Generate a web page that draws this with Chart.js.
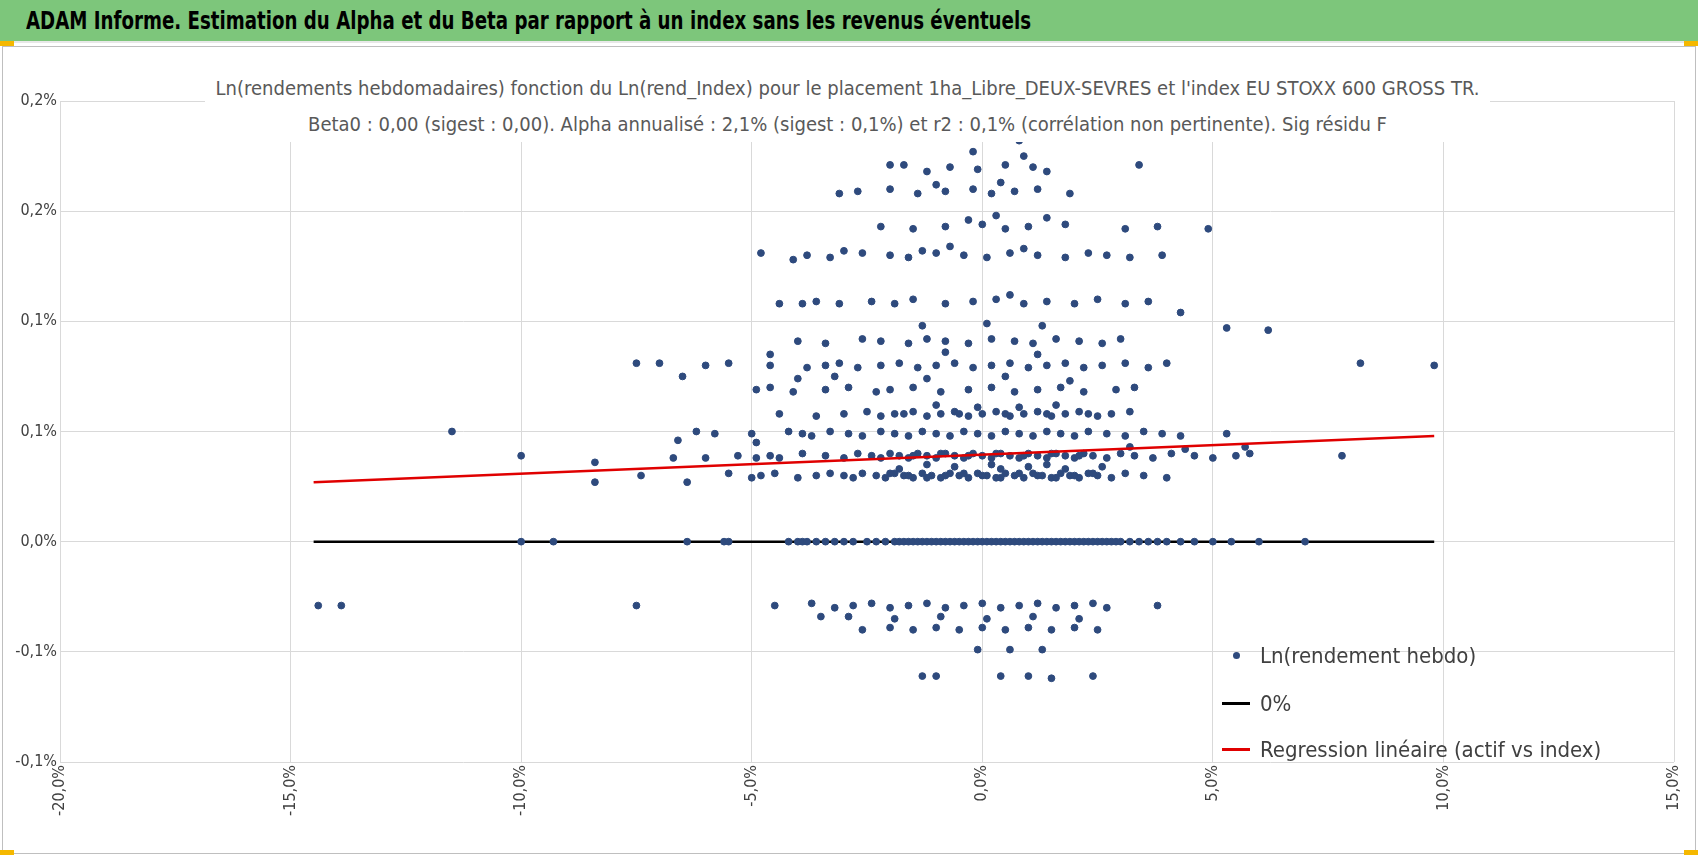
<!DOCTYPE html>
<html><head><meta charset="utf-8">
<script src="https://cdn.jsdelivr.net/npm/chart.js@4"></script>
<style>
body{margin:0;width:1698px;height:855px;overflow:hidden;background:#fff;font-family:"DejaVu Sans Condensed","DejaVu Sans",sans-serif;}
#hdr{position:absolute;left:0;top:0;width:1698px;height:41px;background:#7dc67b;border-bottom:2px solid #e8e8e8;}
#hdr span{position:absolute;left:26px;top:6px;font-size:25px;font-weight:bold;color:#000;white-space:nowrap;font-stretch:condensed;transform-origin:0 0;}
#panel{position:absolute;left:2px;top:46px;width:1692px;height:806px;border:1px solid #bfbfbf;}
.yel{position:absolute;width:14px;height:5px;background:#f5b800;}
#ttl{position:absolute;left:205px;top:70px;width:1285px;text-align:center;font-size:20px;line-height:36px;color:#595959;background:#fff;}
#cv{position:absolute;left:0;top:41px;}
.lg{position:absolute;left:1222px;font-size:22px;color:#404040;display:flex;align-items:center;height:30px;}
.lg i{display:flex;align-items:center;justify-content:center;margin-right:10px;}
</style></head><body>
<div id="hdr"><span id="hs">ADAM Informe. Estimation du Alpha et du Beta par rapport à un index sans les revenus éventuels</span></div>
<div id="panel"></div>
<div class="yel" style="left:0;top:41px"></div><div class="yel" style="left:1684px;top:41px"></div>
<div class="yel" style="left:0;top:850px"></div><div class="yel" style="left:1684px;top:850px"></div>
<canvas id="cv" width="1698" height="814"></canvas>
<div id="ttl">Ln(rendements hebdomadaires) fonction du Ln(rend_Index) pour le placement 1ha_Libre_DEUX-SEVRES et l'index EU STOXX 600 GROSS TR.<br>Beta0 : 0,00 (sigest : 0,00). Alpha annualisé : 2,1% (sigest : 0,1%) et r2 : 0,1% (corrélation non pertinente). Sig résidu F</div>
<div class="lg" style="top:640px"><i style="width:28px;height:8px;"><b style="display:block;width:7px;height:7px;border-radius:4px;background:#2E4A7D"></b></i>Ln(rendement hebdo)</div>
<div class="lg" style="top:688px"><i style="width:28px;height:3px;background:#000"></i>0%</div>
<div class="lg" style="top:734px"><i style="width:28px;height:3px;background:#e00000"></i>Regression linéaire (actif vs index)</div>
<script>
(function(){const s=document.getElementById('hs');const w=s.getBoundingClientRect().width;const target=1005;if(w>target){s.style.transform='scaleX('+(target/w)+')';}})();
const seriesName = "Ln(rendement hebdo)";
const yTickLabels = ["-0,1%","-0,1%","0,0%","0,1%","0,1%","0,2%","0,2%"];
const zeroLine = [[-14.5,0],[9.8,0]];
const regression = [[-14.5,0.027],[9.8,0.048]];
// scatter points [x %, y %]
const pts0 = [-10.0,-9.3,-6.4,-5.6,-5.5,-4.2,-4.0,-3.9,-3.8,-3.6,-3.4,-3.2,-3.0,-2.8,-2.5,-2.3,-2.1,-1.9,-1.8,-1.7,-1.6,-1.5,-1.4,-1.3,-1.2,-1.1,-1.0,-0.9,-0.8,-0.7,-0.6,-0.5,-0.4,-0.3,-0.2,-0.1,0.0,0.1,0.2,0.3,0.4,0.5,0.6,0.7,0.8,0.9,1.0,1.1,1.2,1.3,1.4,1.5,1.6,1.7,1.8,1.9,2.0,2.1,2.2,2.3,2.4,2.5,2.6,2.7,2.8,2.9,3.0,3.2,3.4,3.6,3.8,4.0,4.3,4.6,5.0,5.4,6.0,7.0];
const pts = [
[-8.4,0.027],[-6.4,0.027],[-5.0,0.029],
[-7.4,0.030],[-5.5,0.031],[-4.8,0.030],[-4.5,0.031],[-4.0,0.029],[-3.6,0.030],[-3.3,0.031],[-3.0,0.030],[-2.8,0.029],[-2.6,0.031],[-2.3,0.030],[-2.1,0.029],[-1.9,0.031],[-1.7,0.030],[-1.5,0.029],[-1.3,0.031],[-1.1,0.030],[-0.9,0.029],[-0.7,0.031],[-0.5,0.030],[-0.3,0.029],[-0.1,0.031],[0.1,0.030],[0.3,0.029],[0.5,0.031],[0.7,0.030],[0.9,0.029],[1.1,0.031],[1.3,0.030],[1.5,0.029],[1.7,0.031],[1.9,0.030],[2.1,0.029],[2.3,0.031],[2.5,0.030],[2.8,0.029],[3.1,0.031],[3.5,0.030],[4.0,0.029],
[-2.0,0.031],[-1.6,0.030],[-1.2,0.029],[-0.8,0.030],[-0.4,0.031],[0.0,0.030],[0.4,0.029],[0.8,0.031],[1.2,0.030],[1.6,0.029],[2.0,0.030],[2.4,0.031],
[-1.8,0.033],[-0.6,0.034],[0.4,0.033],[1.0,0.034],[1.8,0.033],[2.6,0.034],[-1.2,0.035],[0.2,0.035],[1.4,0.035],
[-10.0,0.039],[-8.4,0.036],[-6.7,0.038],[-6.0,0.038],[-5.3,0.039],[-4.9,0.038],[-4.6,0.039],[-4.4,0.038],[-3.9,0.040],[-3.4,0.039],[-3.0,0.038],[-2.7,0.040],[-2.4,0.039],[-2.2,0.038],[-2.0,0.040],[-1.8,0.039],[-1.6,0.038],[-1.4,0.040],[-1.2,0.039],[-1.0,0.038],[-0.8,0.040],[-0.6,0.039],[-0.4,0.038],[-0.2,0.040],[0.0,0.039],[0.2,0.038],[0.4,0.040],[0.6,0.039],[0.8,0.038],[1.0,0.040],[1.2,0.039],[1.4,0.038],[1.6,0.040],[1.8,0.039],[2.0,0.038],[2.2,0.040],[2.4,0.039],[2.7,0.038],[3.0,0.040],[3.3,0.039],[3.7,0.038],[4.1,0.040],[4.6,0.039],[5.0,0.038],[5.5,0.039],[5.8,0.040],[7.8,0.039],[4.4,0.042],[5.7,0.043],[3.2,0.043],
[-1.5,0.039],[-0.9,0.040],[-0.3,0.039],[0.3,0.040],[0.9,0.039],[1.5,0.040],[2.1,0.039],
[-11.5,0.050],[-6.2,0.050],[-5.8,0.049],[-5.0,0.049],[-4.2,0.050],[-3.9,0.049],[-3.7,0.048],[-3.3,0.050],[-2.9,0.049],[-2.6,0.048],[-2.2,0.050],[-1.9,0.049],[-1.6,0.048],[-1.3,0.050],[-1.0,0.049],[-0.7,0.048],[-0.4,0.050],[-0.1,0.049],[0.2,0.048],[0.5,0.050],[0.8,0.049],[1.1,0.048],[1.4,0.050],[1.7,0.049],[2.0,0.048],[2.3,0.050],[2.7,0.049],[3.1,0.048],[3.5,0.050],[3.9,0.049],[4.3,0.048],[5.3,0.049],[-6.6,0.046],[-4.9,0.045],
[-4.4,0.058],[-3.6,0.057],[-3.0,0.058],[-2.5,0.059],[-2.2,0.057],[-1.9,0.058],[-1.5,0.059],[-1.2,0.057],[-0.9,0.058],[-0.6,0.059],[-0.3,0.057],[0.0,0.058],[0.3,0.059],[0.6,0.057],[0.9,0.058],[1.2,0.059],[1.5,0.057],[1.8,0.058],[2.1,0.059],[2.5,0.057],[2.8,0.058],[3.2,0.059],[-0.1,0.061],[0.8,0.061],[1.6,0.062],[-1.0,0.062],
[-1.7,0.058],[-0.5,0.058],[0.5,0.058],[1.4,0.058],[2.3,0.058],
[-4.9,0.069],[-4.6,0.070],[-4.1,0.068],[-3.4,0.069],[-2.9,0.070],[-2.3,0.068],[-2.0,0.069],[-1.5,0.070],[-0.9,0.068],[-0.3,0.069],[0.2,0.070],[0.7,0.068],[1.2,0.069],[1.7,0.070],[2.2,0.068],[2.9,0.069],[3.3,0.070],[-4.0,0.074],[-3.2,0.075],[-1.2,0.074],[0.5,0.075],[1.9,0.073],
[-7.5,0.081],[-7.0,0.081],[-6.0,0.080],[-5.5,0.081],[-4.6,0.080],[-3.8,0.079],[-3.4,0.080],[-3.1,0.081],[-2.7,0.079],[-2.2,0.080],[-1.8,0.081],[-1.4,0.079],[-1.0,0.080],[-0.6,0.081],[-0.2,0.079],[0.2,0.080],[0.6,0.081],[1.0,0.079],[1.4,0.080],[1.8,0.081],[2.2,0.079],[2.6,0.080],[3.1,0.081],[3.6,0.079],[4.0,0.081],[8.2,0.081],[9.8,0.080],[-6.5,0.075],[-4.6,0.085],[-0.8,0.086],[1.2,0.085],
[-4.0,0.091],[-3.4,0.090],[-2.6,0.092],[-2.2,0.091],[-1.6,0.090],[-1.2,0.092],[-0.8,0.091],[-0.3,0.090],[0.2,0.092],[0.7,0.091],[1.1,0.090],[1.6,0.092],[2.1,0.091],[2.6,0.090],[3.0,0.092],[5.3,0.097],[6.2,0.096],[-1.3,0.098],[0.1,0.099],[1.3,0.098],[4.3,0.104],
[-4.4,0.108],[-3.6,0.109],[-3.1,0.108],[-2.4,0.109],[-1.9,0.108],[-1.5,0.110],[-0.8,0.108],[-0.2,0.109],[0.3,0.110],[0.9,0.108],[1.4,0.109],[2.0,0.108],[2.5,0.110],[3.1,0.108],[3.6,0.109],[-3.9,0.108],[0.6,0.112],
[-4.8,0.131],[-3.8,0.130],[-3.3,0.129],[-2.6,0.131],[-2.0,0.130],[-1.6,0.129],[-1.0,0.131],[-0.4,0.130],[0.1,0.129],[0.6,0.131],[1.2,0.130],[1.8,0.129],[2.3,0.131],[2.7,0.130],[3.2,0.129],[3.9,0.130],[-4.1,0.128],[-3.0,0.132],[-1.3,0.132],[0.9,0.133],[-0.7,0.134],
[-2.2,0.143],[-1.5,0.142],[-0.8,0.143],[0.0,0.144],[0.5,0.142],[1.0,0.143],[1.8,0.144],[3.1,0.142],[3.8,0.143],[4.9,0.142],[-0.3,0.146],[1.4,0.147],[0.3,0.148],
[-3.1,0.158],[-2.7,0.159],[-2.0,0.160],[-1.4,0.158],[-0.8,0.159],[-0.2,0.160],[0.2,0.158],[0.7,0.159],[1.2,0.160],[1.9,0.158],[-1.0,0.162],[0.4,0.163],
[-2.0,0.171],[-1.7,0.171],[-1.2,0.168],[-0.7,0.170],[-0.1,0.169],[0.5,0.171],[1.1,0.170],[1.4,0.168],[3.4,0.171],[-0.2,0.177],[0.8,0.182],[0.9,0.175],
[-14.4,-0.029],[-13.9,-0.029],[-7.5,-0.029],[-4.5,-0.029],[-3.7,-0.028],[-3.2,-0.030],[-2.8,-0.029],[-2.4,-0.028],[-2.0,-0.030],[-1.6,-0.029],[-1.2,-0.028],[-0.8,-0.030],[-0.4,-0.029],[0.0,-0.028],[0.4,-0.030],[0.8,-0.029],[1.2,-0.028],[1.6,-0.030],[2.0,-0.029],[2.4,-0.028],[2.7,-0.030],[3.8,-0.029],
[-3.5,-0.034],[-2.9,-0.034],[-1.9,-0.035],[-0.9,-0.034],[0.1,-0.035],[1.1,-0.034],[2.1,-0.035],
[-2.6,-0.040],[-2.0,-0.039],[-1.5,-0.040],[-1.0,-0.039],[-0.5,-0.040],[0.0,-0.039],[0.5,-0.040],[1.0,-0.039],[1.5,-0.040],[2.0,-0.039],[2.5,-0.040],
[-0.1,-0.049],[0.6,-0.049],[1.3,-0.049],
[-1.3,-0.061],[-1.0,-0.061],[0.4,-0.061],[1.0,-0.061],[1.5,-0.062],[2.4,-0.061]
];
const scatter = pts0.map(x=>({x:x,y:0})).concat(pts.map(p=>({x:p[0],y:p[1]})));
new Chart(document.getElementById('cv'),{
  type:'scatter',
  data:{datasets:[
    {label:seriesName,data:scatter,backgroundColor:'#2E4A7D',borderColor:'#2E4A7D',pointRadius:3.4,order:1},
    {label:'0%',type:'line',data:zeroLine.map(p=>({x:p[0],y:p[1]})),borderColor:'#000',borderWidth:2.5,pointRadius:0,order:2},
    {label:'Regression linéaire (actif vs index)',type:'line',data:regression.map(p=>({x:p[0],y:p[1]})),borderColor:'#e00000',borderWidth:2.5,pointRadius:0,order:0}
  ]},
  options:{responsive:false,animation:false,
    layout:{padding:{top:60,right:24,left:0,bottom:0}},
    plugins:{legend:{display:false},title:{display:false},tooltip:{enabled:false}},
    scales:{
      x:{type:'linear',min:-20,max:15,
        ticks:{stepSize:5,minRotation:90,maxRotation:90,color:'#404040',font:{family:'"DejaVu Sans Condensed","DejaVu Sans"',size:16},
          callback:v=>v.toFixed(1).replace('.',',')+'%'},
        grid:{color:'#d9d9d9',drawTicks:false},border:{display:false},
        afterFit:s=>{s.height=93;}},
      y:{min:-0.10,max:0.20,
        ticks:{stepSize:0.05,color:'#404040',font:{family:'"DejaVu Sans Condensed","DejaVu Sans"',size:16},
          callback:(v,i)=>yTickLabels[i]},
        grid:{color:'#d9d9d9',drawTicks:false},border:{display:false},
        afterFit:s=>{s.width=60;}}
    }}
});
</script></body></html>
